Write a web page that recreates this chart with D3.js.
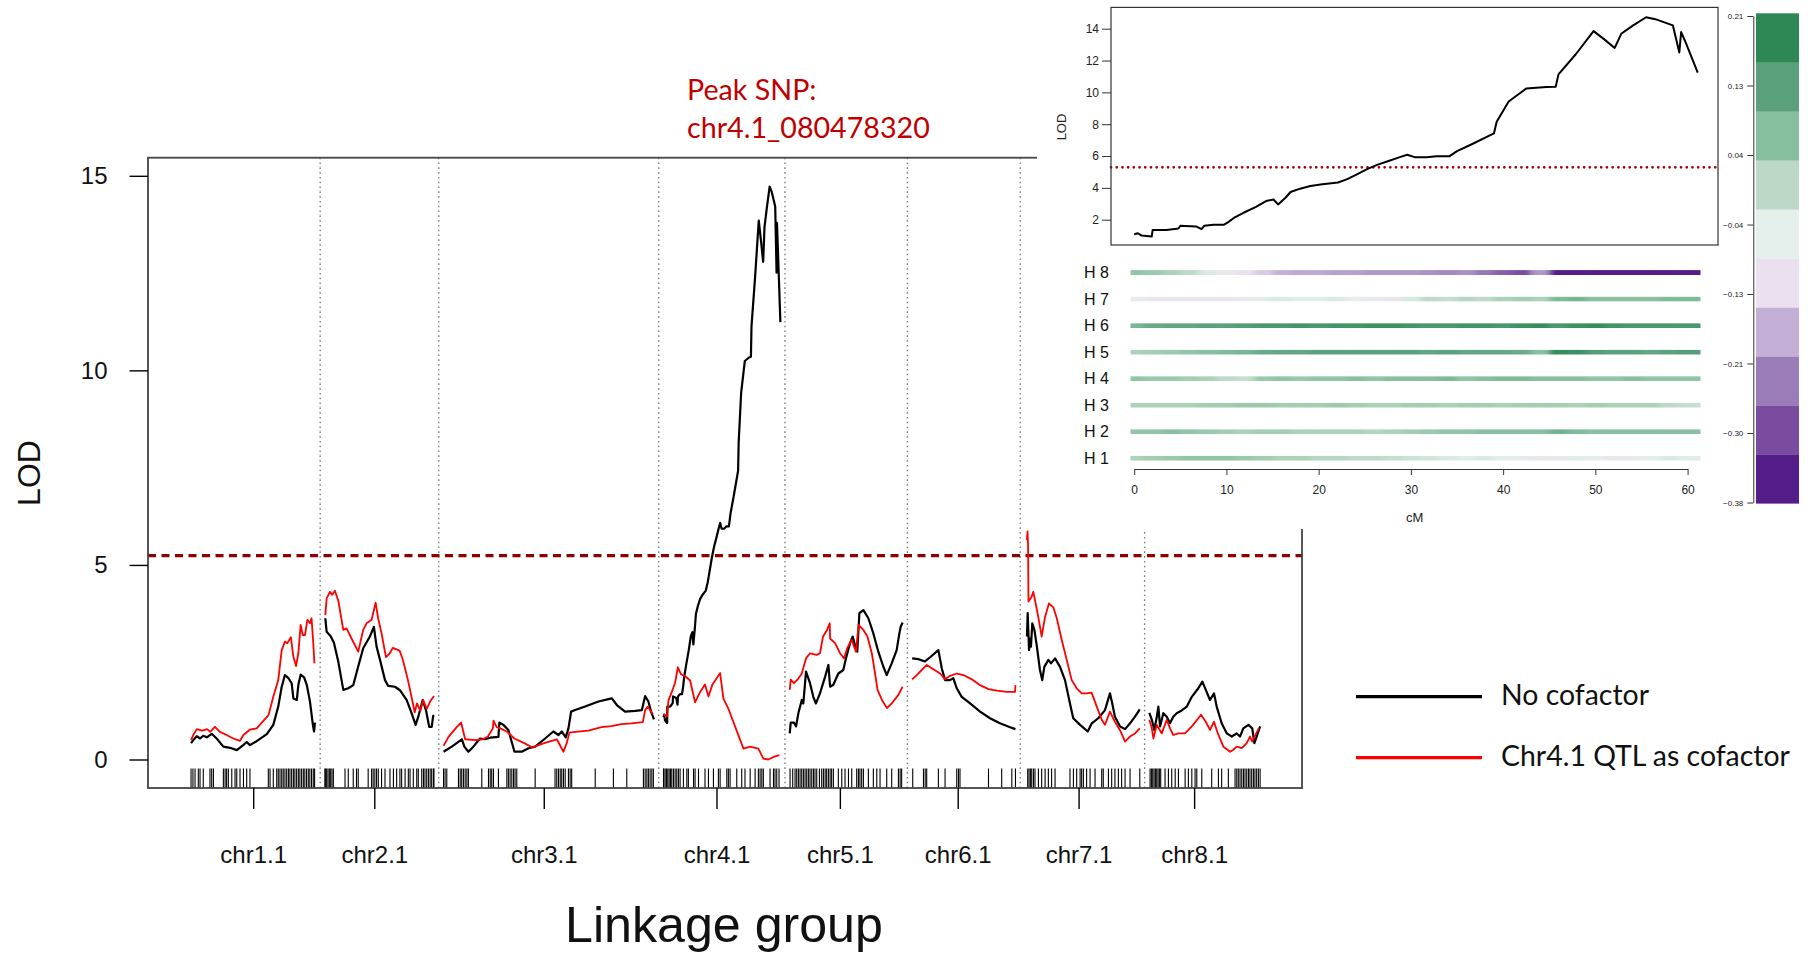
<!DOCTYPE html>
<html>
<head>
<meta charset="utf-8">
<script src="https://cdn.jsdelivr.net/npm/d3@7/dist/d3.min.js"></script>
<style>
  html, body { margin: 0; padding: 0; background: #fff; }
  svg { display: block; }
</style>
</head>
<body>
<svg id="chart" width="1808" height="953"></svg>
<script>
// ---------- Genome-wide scan: linkage groups ----------
const chromosomes = ['chr1.1', 'chr2.1', 'chr3.1', 'chr4.1', 'chr5.1', 'chr6.1', 'chr7.1', 'chr8.1'];
const chrLengths = [65, 57, 110, 61, 59, 54, 60, 58];        // cM
const chrLabelPos = [32.5, 25.8, 52.4, 27.7, 26.2, 23.8, 28.0, 23.4]; // cM within each group
const lodTicks = [0, 5, 10, 15];
const lodThreshold = 5.24;

// LOD profiles, [cM, LOD] — no cofactor
const chr1NoCof = [[0,0.42],[1.2,0.50],[3.0,0.60],[4.7,0.54],[6.4,0.61],[8.2,0.57],[10.8,0.66],[13.4,0.54],[16.9,0.33],[20.4,0.30],[23.9,0.24],[27.3,0.37],[29.1,0.45],[30.8,0.37],[34.3,0.47],[39.6,0.65],[43.0,0.89],[45.6,1.36],[47.4,1.87],[49.1,2.17],[50.9,2.09],[52.6,1.96],[53.5,1.57],[55.3,1.53],[56.1,1.92],[57.3,2.18],[59.1,2.11],[60.5,1.92],[62.2,1.48],[63.6,0.93],[64.3,0.72],[64.8,0.95]];
const chr2NoCof = [[0.2,3.63],[0.9,3.28],[3.0,3.17],[4.7,3.00],[7.0,2.51],[9.6,1.79],[12.2,1.83],[14.8,1.91],[17.4,2.39],[20.0,2.86],[23.5,3.16],[25.6,3.41],[27.0,2.90],[28.8,2.56],[31.4,2.04],[33.1,1.89],[36.6,1.87],[39.2,1.78],[42.7,1.53],[45.3,1.19],[47.4,0.89],[48.8,1.10],[51.1,1.53],[52.8,1.27],[54.5,0.84],[55.8,0.84],[56.6,1.12],[57.0,1.14]];
const chr3NoCof = [[0,0.20],[4.3,0.33],[9.6,0.52],[10.9,0.33],[13.0,0.20],[15.6,0.33],[19.1,0.54],[21.7,0.52],[24.4,0.56],[28.7,0.58],[29.2,0.95],[31.3,0.89],[33.9,0.76],[37.1,0.20],[40.9,0.20],[44.4,0.29],[47.9,0.33],[53.1,0.54],[57.4,0.72],[60.1,0.63],[61.8,0.72],[63.9,0.57],[65.3,0.80],[66.7,1.23],[68.8,1.27],[74.0,1.36],[81.0,1.49],[86.2,1.55],[88.0,1.57],[90.6,1.40],[94.9,1.23],[100.2,1.25],[103.7,1.27],[105.4,1.63],[107.1,1.49],[108.5,1.23],[110.0,1.03]];
const chr4NoCof = [[0,1.09],[0.4,1.15],[0.8,1.00],[1.9,0.94],[2.0,1.36],[3.5,1.36],[4.8,1.45],[5.0,1.62],[6.7,1.58],[7.3,1.41],[7.6,1.62],[8.6,1.68],[9.7,1.68],[10.2,1.85],[10.8,2.11],[11.8,2.42],[13.2,2.81],[14.3,3.17],[15.1,3.27],[15.6,2.96],[16.4,3.38],[16.95,3.74],[18.0,3.95],[19.1,4.12],[20.4,4.23],[22.1,4.34],[23.1,4.55],[24.2,4.87],[25.3,5.19],[26.4,5.46],[27.5,5.67],[28.8,5.93],[29.6,6.08],[30.4,5.93],[31.7,5.93],[32.8,5.99],[34.2,5.99],[35.0,6.31],[36.6,6.74],[39.0,7.42],[39.3,8.16],[40.6,9.43],[41.7,9.90],[42.5,10.24],[44.7,10.33],[45.7,10.35],[46.0,11.13],[47.9,12.41],[49.8,13.85],[50.9,13.36],[52.1,12.79],[52.8,13.68],[54.1,14.21],[55.5,14.72],[56.5,14.60],[58.4,14.21],[59.1,12.51],[59.3,13.79],[59.7,13.26],[61.1,11.24]];
const chr5NoCof = [[0,0.67],[0.5,0.95],[2.2,0.95],[3.3,0.85],[4.5,1.19],[6.3,1.53],[7.1,1.44],[8.5,2.26],[10.6,1.96],[12.3,1.61],[13.7,1.44],[15.8,1.70],[18.5,2.13],[20.2,2.43],[21.1,1.87],[22.8,1.92],[25.4,2.21],[28.0,2.30],[29.4,2.60],[31.5,2.99],[32.9,3.16],[34.1,2.94],[35.3,2.77],[36.4,3.76],[38.5,3.84],[41.1,3.63],[43.7,3.24],[46.3,2.77],[48.9,2.39],[50.7,2.17],[53.3,2.47],[55.9,2.81],[57.3,3.24],[58.0,3.41],[59.0,3.52]];
const chr6NoCof = [[0,2.60],[3.2,2.58],[6.7,2.52],[9.7,2.64],[13.7,2.81],[15.5,2.34],[17.2,2.04],[19.8,2.04],[21.5,2.09],[23.3,1.83],[25.9,1.61],[30.3,1.44],[35.5,1.23],[40.7,1.06],[45.9,0.93],[51.2,0.83],[54.0,0.78]];
const chr7NoCof = [[1.0,3.16],[1.4,3.76],[1.7,3.33],[2.1,2.81],[2.6,3.11],[3.1,2.90],[3.8,3.50],[4.9,3.33],[6.1,2.94],[7.8,2.30],[9.0,2.04],[10.1,2.38],[12.2,2.56],[13.6,2.47],[15.7,2.60],[18.3,2.38],[20.9,2.04],[23.5,1.44],[25.2,1.06],[28.8,0.89],[32.8,0.72],[34.9,0.93],[38.3,1.06],[41.8,1.27],[44.4,1.70],[45.6,1.44],[47.0,1.10],[49.7,0.85],[52.3,0.78],[54.9,0.93],[57.5,1.10],[60.0,1.29]];
const chr8NoCof = [[0,1.20],[1.3,1.02],[2.6,0.76],[3.9,1.10],[4.7,1.36],[5.6,0.85],[7.3,1.19],[9.1,1.10],[10.8,0.93],[12.5,1.10],[14.3,1.19],[16.9,1.26],[19.6,1.36],[22.2,1.61],[25.6,1.83],[27.7,2.00],[29.5,1.79],[31.7,1.53],[33.8,1.70],[35.2,1.36],[37.8,0.93],[40.5,0.67],[43.1,0.59],[45.7,0.67],[47.4,0.59],[49.1,0.80],[51.8,0.89],[53.8,0.80],[54.9,0.42],[56.1,0.59],[57.9,0.85]];

// LOD profiles, [cM, LOD] — chr4.1 QTL as cofactor
const chr1Cof = [[0,0.50],[1.2,0.63],[3.0,0.78],[5.8,0.74],[8.4,0.78],[10.0,0.71],[12.5,0.84],[15.1,0.71],[18.6,0.63],[22.1,0.54],[25.6,0.48],[27.4,0.63],[30.8,0.77],[34.3,0.80],[40.5,1.14],[43.0,1.61],[45.6,2.04],[47.4,2.81],[49.1,3.03],[50.3,2.99],[52.2,3.14],[53.5,2.64],[54.9,2.40],[56.1,2.73],[57.3,3.46],[58.4,3.20],[59.6,3.20],[60.8,3.59],[62.2,3.50],[63.0,3.63],[63.9,2.99],[64.5,2.47]];
const chr2Cof = [[0.2,3.71],[0.9,4.14],[2.6,4.31],[3.8,4.23],[5.2,4.34],[7.0,4.08],[9.6,3.33],[11.3,3.37],[13.9,3.11],[17.4,2.77],[20.0,3.33],[21.8,3.50],[24.4,3.59],[26.5,4.03],[27.8,3.63],[29.6,3.24],[31.9,2.63],[33.9,2.73],[35.5,2.87],[39.0,2.80],[40.7,2.57],[43.4,2.04],[46.0,1.44],[46.9,1.21],[48.1,1.44],[49.9,1.25],[51.3,1.53],[53.2,1.30],[55.0,1.49],[57.0,1.63]];
const chr3Cof = [[0,0.35],[2.6,0.58],[7.0,0.84],[9.2,0.95],[11.3,0.52],[17.1,0.50],[20.6,0.52],[23.2,0.59],[25.8,0.80],[26.1,1.00],[27.8,0.83],[29.6,0.80],[33.1,0.72],[37.0,0.54],[42.2,0.42],[46.5,0.31],[52.6,0.42],[59.2,0.52],[62.7,0.20],[64.4,0.42],[65.8,0.69],[68.8,0.71],[75.7,0.74],[82.6,0.83],[87.8,0.86],[93.0,0.91],[98.2,0.93],[104.2,0.96],[105.4,1.27],[106.8,1.36],[108.2,1.25],[109.4,1.17]];
const chr4Cof = [[0,1.16],[1.9,1.11],[2.6,1.52],[4.3,1.73],[6.1,1.98],[7.5,2.37],[9.2,2.19],[11.3,2.14],[13.9,2.03],[16.5,1.47],[19.1,1.73],[21.7,1.93],[23.5,1.62],[25.6,1.93],[29.6,2.22],[31.3,1.57],[33.9,1.31],[37.4,0.85],[41.8,0.28],[45.3,0.33],[49.6,0.28],[52.2,0.02],[54.8,0.00],[58.3,0.08],[60.6,0.11]];
const chr5Cof = [[0,1.79],[0.5,2.05],[2.2,1.96],[4.5,2.08],[6.3,2.21],[8.5,2.60],[10.6,2.73],[14.1,2.69],[15.8,2.73],[17.4,3.16],[19.5,3.33],[20.9,3.50],[21.1,3.11],[23.7,2.99],[26.3,2.73],[28.4,2.60],[30.0,2.86],[32.4,3.07],[34.6,2.77],[36.0,3.46],[38.5,3.33],[40.6,3.16],[42.9,2.73],[44.6,2.21],[45.9,1.79],[48.2,1.53],[50.8,1.32],[53.3,1.44],[56.8,1.66],[59.0,1.87]];
const chr6Cof = [[0,2.06],[2.4,2.17],[5.0,2.30],[7.6,2.43],[11.1,2.32],[14.6,2.21],[17.2,2.06],[19.8,2.15],[23.3,2.21],[26.8,2.17],[31.2,2.06],[35.5,1.91],[39.9,1.81],[44.3,1.77],[49.5,1.74],[53.8,1.74],[54.0,1.91]];
const chr7Cof = [[1.0,5.64],[1.3,5.86],[1.6,5.50],[1.8,4.06],[3.5,4.19],[4.3,4.31],[5.2,4.10],[6.9,3.67],[8.7,3.16],[10.5,3.67],[12.5,4.01],[14.8,3.91],[16.6,3.63],[19.2,3.07],[21.8,2.56],[24.4,2.04],[27.0,1.83],[29.6,1.70],[32.2,1.70],[34.8,1.72],[37.5,1.36],[40.1,1.02],[41.8,0.89],[44.4,1.23],[47.0,0.97],[49.6,0.76],[52.3,0.46],[54.9,0.59],[57.5,0.67],[60.0,0.80]];
const chr8Cof = [[0,1.02],[1.3,0.80],[2.1,0.54],[3.9,0.89],[6.5,0.67],[9.1,1.02],[10.8,0.80],[12.5,0.63],[15.1,0.67],[18.6,0.67],[22.2,0.85],[25.6,1.06],[27.0,1.15],[29.5,0.97],[31.7,0.76],[33.8,0.97],[35.8,0.67],[38.7,0.33],[42.2,0.20],[43.9,0.25],[45.7,0.33],[48.3,0.29],[50.9,0.42],[52.6,0.59],[53.8,0.46],[55.0,0.59],[57.2,0.80]];

// Marker positions (cM) for the rug
const chr1Markers = [0,1,2.1,3.8,4.7,6.4,9.9,10.8,11.7,16.9,17.8,18.6,19.5,21.3,23,23.9,25.6,27.4,29.1,30.8,40.4,41.3,43,44.8,45.6,46.5,47.4,48.2,49.1,50,50.9,51.7,52.6,53.5,54.3,55.2,56.1,56.9,57.8,58.7,59.5,60.4,61.3,62.1,63,63.9,64.6];
const chr2Markers = [0,0.2,0.9,1.6,2.3,3.0,3.7,4.4,10.5,12.2,14.8,16.5,17.4,22.6,24.4,25.2,26.1,27.0,27.9,29.6,31.4,34.0,35.8,37.5,39.2,40.1,41.9,43.6,44.5,46.2,48.0,48.8,50.6,51.5,52.3,53.2,54.1,55.0,55.8,56.7,57];
const chr3Markers = [0,0.8,1.7,7.8,8.7,9.5,10.4,11.3,12.2,13.0,20.0,23.5,24.4,25.2,26.1,28.7,33.1,33.9,34.8,35.7,36.6,37.4,38.3,47.9,58.3,59.2,60.1,61.0,61.8,62.7,63.6,65.3,66.2,67.0,79.3,88.8,95.8,104.5,105.4,106.3,107.1,108.0,108.9,109.7];
const chr4Markers = [0,0.14,0.84,1.53,2.23,2.93,3.62,4.32,5.19,6.06,6.93,7.8,8.68,10.4,12.2,13.0,15.7,16.5,18.3,21.7,23.5,26.1,28.7,29.6,33.1,33.9,34.8,38.3,40.9,42.6,45.3,47.9,49.6,50.5,51.4,52.2,55.7,57.5,58.3,59.2,60.4];
const chr5Markers = [0.16,1.55,2.77,3.64,4.51,5.39,6.26,7.13,8.0,8.87,9.74,10.6,11.5,12.4,13.2,14.1,15.5,16.7,17.6,18.5,19.3,20.2,21.1,21.9,22.8,25.4,27.2,28.9,30.7,32.4,35.0,35.9,36.7,37.6,38.5,41.1,43.7,45.5,47.2,50.7,53.3,56.8,57.7,58.5];
const chr6Markers = [0.3,5.9,6.8,7.6,13.7,17.2,23.3,24.2,25.0,39.9,46.8,52.1,54];
const chr7Markers = [1.4,2.1,2.8,3.5,4.4,5.2,7.0,8.7,10.5,12.2,13.9,15.7,23.5,25.3,27.0,28.8,29.6,30.5,32.2,34.0,36.6,40.1,40.9,43.6,45.3,47.0,48.8,50.5,52.3,54.9,60];
const chr8Markers = [0.37,1.06,1.76,2.46,3.15,3.85,4.55,5.24,5.94,8.2,9.96,11.7,13.5,15.2,18.7,20.4,22.2,23.9,24.8,27.4,32.6,36.1,37.8,41.3,44.8,45.7,46.5,47.4,48.3,49.2,50.0,50.9,51.8,52.6,53.5,54.4,55.2,56.1,57.0,57.9];

// ---------- chr4.1 detail: haplotype effects ----------
const hapLabels = ['H 8', 'H 7', 'H 6', 'H 5', 'H 4', 'H 3', 'H 2', 'H 1'];
const effectPos = [0,2,4,6,8,10,12,14,16,18,20,22,24,26,28,30,32,34,36,38,40,42,44,46,48,50,52,54,56,58,60];
const effH8 = [0.05,0.04,0.02,0.0,-0.04,-0.08,-0.11,-0.14,-0.17,-0.18,-0.18,-0.19,-0.19,-0.2,-0.2,-0.2,-0.21,-0.22,-0.21,-0.24,-0.27,-0.29,-0.2,-0.35,-0.36,-0.36,-0.36,-0.36,-0.36,-0.36,-0.36];
const effH7 = [-0.06,-0.1,-0.09,-0.1,-0.09,-0.1,-0.08,-0.05,-0.04,-0.05,-0.05,-0.04,-0.06,-0.08,-0.09,-0.04,0.0,-0.01,0.01,0.0,0.02,0.03,0.02,0.07,0.08,0.06,0.06,0.06,0.06,0.07,0.07];
const effH6 = [0.08,0.1,0.11,0.11,0.12,0.12,0.13,0.14,0.14,0.15,0.14,0.15,0.15,0.16,0.16,0.15,0.14,0.14,0.15,0.15,0.14,0.16,0.17,0.14,0.16,0.17,0.15,0.14,0.14,0.14,0.14];
const effH5 = [0.02,0.03,0.04,0.05,0.06,0.07,0.08,0.1,0.11,0.11,0.12,0.12,0.12,0.12,0.12,0.12,0.11,0.12,0.11,0.11,0.11,0.1,0.06,0.17,0.16,0.13,0.12,0.12,0.11,0.12,0.13];
const effH4 = [0.05,0.04,0.04,0.03,0.02,0.0,-0.01,0.04,0.05,0.04,0.05,0.05,0.06,0.05,0.06,0.06,0.06,0.07,0.05,0.06,0.07,0.07,0.06,0.06,0.06,0.05,0.05,0.06,0.05,0.05,0.05];
const effH3 = [0.02,0.02,0.02,0.02,0.03,0.03,0.04,0.04,0.03,0.03,0.03,0.04,0.03,0.02,0.02,0.03,0.03,0.02,0.03,0.03,0.02,0.03,0.03,0.03,0.02,0.03,0.02,0.02,0.02,0.0,-0.01];
const effH2 = [0.05,0.05,0.06,0.05,0.04,0.03,0.02,0.03,0.03,0.02,0.02,0.02,0.02,0.01,0.02,0.03,0.04,0.05,0.05,0.06,0.06,0.06,0.06,0.09,0.07,0.06,0.06,0.06,0.06,0.06,0.06];
const effH1 = [0.02,0.03,0.04,0.05,0.05,0.05,0.04,0.03,0.02,0.02,0.01,0.01,0.0,0.0,-0.01,-0.02,-0.03,-0.04,-0.05,-0.04,-0.06,-0.07,-0.09,-0.08,-0.05,-0.06,-0.09,-0.08,-0.06,-0.04,-0.05];
const effectRange = [-0.38, 0.21];
const effectColors = ['#541d89', '#7a4c9f', '#9a7db8', '#c3aed5', '#ebe0ef',
                      '#e5efeb', '#bbd9c6', '#86bf9e', '#5aa07a', '#2e8856'];
const insetLodTicks = [2, 4, 6, 8, 10, 12, 14];
const insetCmTicks = [0, 10, 20, 30, 40, 50, 60];
const colorbarTicks = [-0.38, -0.2957, -0.2114, -0.1271, -0.0429, 0.0414, 0.1257, 0.21];

// ---------- assemble ----------
const noCofactor = [chr1NoCof, chr2NoCof, chr3NoCof, chr4NoCof, chr5NoCof, chr6NoCof, chr7NoCof, chr8NoCof];
const withCofactor = [chr1Cof, chr2Cof, chr3Cof, chr4Cof, chr5Cof, chr6Cof, chr7Cof, chr8Cof];
const markers = [chr1Markers, chr2Markers, chr3Markers, chr4Markers, chr5Markers, chr6Markers, chr7Markers, chr8Markers];
const effects = [effH8, effH7, effH6, effH5, effH4, effH3, effH2, effH1];

const GAP = 5; // cM between linkage groups
const chrStart = [];
chrLengths.reduce((acc, len, i) => { chrStart[i] = acc; return acc + len + GAP; }, 0);

const svg = d3.select('#chart');
const AXIS_FONT = 'Liberation Sans, Arial, sans-serif';
const NOTE_FONT = 'Lato, Open Sans, sans-serif';

function fitWidth(sel, target) {
  const w = sel.node().getComputedTextLength();
  const fs = parseFloat(sel.attr('font-size'));
  return fs * target / w;
}

// ---------- main genome-wide panel ----------
const P = { left: 148, right: 1302, top: 157.7, bottom: 788 };
const x = d3.scaleLinear().domain([-22.5, 580.8]).range([P.left, P.right]);
const y = d3.scaleLinear().domain([0, 15]).range([759.5, 175.8]);

const main = svg.append('g');

// dotted separators between linkage groups
main.append('g').selectAll('line')
  .data(chrStart.slice(1))
  .join('line')
  .attr('x1', d => x(d - GAP / 2)).attr('x2', d => x(d - GAP / 2))
  .attr('y1', P.top).attr('y2', P.bottom)
  .attr('stroke', '#7a7a7a').attr('stroke-width', 1.3)
  .attr('stroke-dasharray', '1.6,3.2');

// significance threshold
main.append('line')
  .attr('x1', P.left).attr('x2', P.right)
  .attr('y1', y(lodThreshold)).attr('y2', y(lodThreshold))
  .attr('stroke', '#8b0000').attr('stroke-width', 3.2)
  .attr('stroke-dasharray', '8,5.5');

// marker rug
const rug = main.append('g');
markers.forEach((ms, i) => {
  rug.selectAll(null).data(ms).join('line')
    .attr('x1', d => x(chrStart[i] + d)).attr('x2', d => x(chrStart[i] + d))
    .attr('y1', 768.5).attr('y2', P.bottom)
    .attr('stroke', '#000').attr('stroke-width', 1.1);
});

// LOD curves
const lodLine = offset => d3.line().x(d => x(offset + d[0])).y(d => y(d[1]));
noCofactor.forEach((pts, i) => {
  main.append('path').datum(pts)
    .attr('d', lodLine(chrStart[i]))
    .attr('fill', 'none').attr('stroke', '#000').attr('stroke-width', 2.2)
    .attr('stroke-linejoin', 'round');
});
withCofactor.forEach((pts, i) => {
  main.append('path').datum(pts)
    .attr('d', lodLine(chrStart[i]))
    .attr('fill', 'none').attr('stroke', '#ff0000').attr('stroke-width', 1.8)
    .attr('stroke-linejoin', 'round');
});

// frame
main.append('rect')
  .attr('x', P.left).attr('y', P.top)
  .attr('width', P.right - P.left).attr('height', P.bottom - P.top)
  .attr('fill', 'none').attr('stroke', '#444').attr('stroke-width', 1.8);

// y axis
const yAxis = main.append('g').attr('transform', `translate(${P.left},0)`)
  .call(d3.axisLeft(y).tickValues(lodTicks).tickSize(18.5).tickPadding(22).tickFormat(d3.format('d')));
yAxis.select('.domain').remove();
yAxis.selectAll('line').attr('stroke', '#000').attr('stroke-width', 1.4);
yAxis.selectAll('text').attr('font-family', AXIS_FONT).attr('font-size', 24).attr('fill', '#111');

// x axis: one tick per linkage group
const chrTick = chrLabelPos.map((p, i) => chrStart[i] + p);
const xAxis = main.append('g').attr('transform', `translate(0,${P.bottom})`)
  .call(d3.axisBottom(x).tickValues(chrTick).tickSize(21).tickPadding(37)
    .tickFormat((d, i) => chromosomes[i]));
xAxis.select('.domain').remove();
xAxis.selectAll('line').attr('stroke', '#000').attr('stroke-width', 1.4);
xAxis.selectAll('text').attr('font-family', AXIS_FONT).attr('font-size', 24).attr('fill', '#111');

// axis titles
main.append('text')
  .attr('transform', 'translate(40,473) rotate(-90)')
  .attr('text-anchor', 'middle')
  .attr('font-family', AXIS_FONT).attr('font-size', 32).attr('fill', '#111')
  .text('LOD');
const xTitle = main.append('text')
  .attr('x', 565).attr('y', 942)
  .attr('font-family', AXIS_FONT).attr('font-size', 48).attr('fill', '#111')
  .text('Linkage group');
xTitle.attr('font-size', fitWidth(xTitle, 318));

// peak annotation
const peak1 = main.append('text').attr('x', 687).attr('y', 100)
  .attr('font-family', NOTE_FONT).attr('font-size', 28).attr('fill', '#c00000')
  .text('Peak SNP:');
const peak2 = main.append('text').attr('x', 687).attr('y', 138)
  .attr('font-family', NOTE_FONT).attr('font-size', 28).attr('fill', '#c00000')
  .text('chr4.1_080478320');
const peakSize = fitWidth(peak2, 243);
peak1.attr('font-size', peakSize); peak2.attr('font-size', peakSize);

// legend
const legend = main.append('g');
const legendItems = [
  { label: 'No cofactor', color: '#000', y: 696.7 },
  { label: 'Chr4.1 QTL as cofactor', color: '#ff0000', y: 757.7 }
];
legend.selectAll('line').data(legendItems).join('line')
  .attr('x1', 1356).attr('x2', 1482)
  .attr('y1', d => d.y).attr('y2', d => d.y)
  .attr('stroke', d => d.color).attr('stroke-width', 3.3);
const legText = legend.selectAll('text').data(legendItems).join('text')
  .attr('x', 1501).attr('y', d => d.y + 8.5)
  .attr('font-family', NOTE_FONT).attr('font-size', 28).attr('fill', '#111')
  .text(d => d.label);
const legSize = fitWidth(d3.select(legText.nodes()[1]), 289);
legText.attr('font-size', legSize);

// ---------- chr4.1 detail panel ----------
const inset = svg.append('g');
inset.append('rect').attr('x', 1037).attr('y', 0).attr('width', 771).attr('height', 529).attr('fill', '#fff');

const xI = d3.scaleLinear().domain([0, 60]).range([1134.2, 1687.6]);
const yI = d3.scaleLinear().domain([2, 14]).range([219.7, 28.7]);
const IB = { left: 1111, right: 1718, top: 7.4, bottom: 245 };

inset.append('line')
  .attr('x1', IB.left).attr('x2', IB.right)
  .attr('y1', yI(5.29)).attr('y2', yI(5.29))
  .attr('stroke', '#a00000').attr('stroke-width', 2.6)
  .attr('stroke-linecap', 'round').attr('stroke-dasharray', '0.1,5.6');

inset.append('path').datum(chr4NoCof)
  .attr('d', d3.line().x(d => xI(d[0])).y(d => yI(d[1])))
  .attr('fill', 'none').attr('stroke', '#000').attr('stroke-width', 2)
  .attr('stroke-linejoin', 'round');

inset.append('rect')
  .attr('x', IB.left).attr('y', IB.top)
  .attr('width', IB.right - IB.left).attr('height', IB.bottom - IB.top)
  .attr('fill', 'none').attr('stroke', '#333').attr('stroke-width', 1.2);

const yIAxis = inset.append('g').attr('transform', `translate(${IB.left},0)`)
  .call(d3.axisLeft(yI).tickValues(insetLodTicks).tickSize(9).tickPadding(3));
yIAxis.select('.domain').remove();
yIAxis.selectAll('line').attr('stroke', '#333');
yIAxis.selectAll('text').attr('font-family', AXIS_FONT).attr('font-size', 12).attr('fill', '#222');

inset.append('text')
  .attr('transform', 'translate(1066,127) rotate(-90)')
  .attr('text-anchor', 'middle')
  .attr('font-family', AXIS_FONT).attr('font-size', 13).attr('fill', '#222')
  .text('LOD');

// haplotype effect strips: colours interpolated between the key's classes
const binW = (effectRange[1] - effectRange[0]) / effectColors.length;
const stripColor = d3.scaleLinear()
  .domain(effectColors.map((c, i) => effectRange[0] + binW * (i + 0.5)))
  .range(effectColors)
  .clamp(true);
const defs = svg.append('defs');
defs.append('filter').attr('id', 'stripBlur')
  .attr('x', '-5%').attr('y', '-50%').attr('width', '110%').attr('height', '200%')
  .append('feGaussianBlur').attr('stdDeviation', '3 0');

const rowY = d3.scalePoint().domain(hapLabels).range([272.6, 458.2]);
const stripL = xI(-0.4), stripR = xI(61.4), stripH = 5;
const edges = effectPos.map((p, i) => [
  i === 0 ? stripL - 6 : xI((effectPos[i - 1] + p) / 2),
  i === effectPos.length - 1 ? stripR + 6 : xI((p + effectPos[i + 1]) / 2)
]);

hapLabels.forEach((lab, r) => {
  const cy = rowY(lab);
  const clipId = 'strip' + r;
  defs.append('clipPath').attr('id', clipId)
    .append('rect').attr('x', stripL).attr('y', cy - stripH / 2)
    .attr('width', stripR - stripL).attr('height', stripH);
  inset.append('g').attr('clip-path', `url(#${clipId})`)
    .append('g').attr('filter', 'url(#stripBlur)')
    .selectAll('rect').data(effects[r]).join('rect')
    .attr('x', (d, i) => edges[i][0]).attr('width', (d, i) => edges[i][1] - edges[i][0] + 0.5)
    .attr('y', cy - stripH / 2).attr('height', stripH)
    .attr('fill', d => stripColor(d));
  inset.append('text')
    .attr('x', 1084).attr('y', cy).attr('dy', '0.36em')
    .attr('font-family', AXIS_FONT).attr('font-size', 16).attr('fill', '#111')
    .text(lab);
});

// cM axis
const xIAxis = inset.append('g').attr('transform', 'translate(0,469)')
  .call(d3.axisBottom(xI).tickValues(insetCmTicks).tickSize(6).tickPadding(10).tickSizeOuter(0));
xIAxis.select('.domain').attr('stroke', '#333');
xIAxis.selectAll('line').attr('stroke', '#333');
xIAxis.selectAll('text').attr('font-family', AXIS_FONT).attr('font-size', 12).attr('fill', '#222');
inset.append('text')
  .attr('x', xI(30.4)).attr('y', 522)
  .attr('text-anchor', 'middle')
  .attr('font-family', AXIS_FONT).attr('font-size', 13).attr('fill', '#222')
  .text('cM');

// colour key
const cbBox = d3.scaleLinear().domain([0, effectColors.length]).range([503.3, 13.3]);
inset.append('g').selectAll('rect').data(effectColors).join('rect')
  .attr('x', 1756).attr('width', 43)
  .attr('y', (d, i) => cbBox(i + 1)).attr('height', (d, i) => cbBox(i) - cbBox(i + 1) + 0.3)
  .attr('fill', d => d);
const cbY = d3.scaleLinear().domain(effectRange).range([502.5, 16]);
const cbAxis = inset.append('g').attr('transform', 'translate(1753.3,0)')
  .call(d3.axisLeft(cbY).tickValues(colorbarTicks).tickSize(6).tickPadding(4)
    .tickFormat(d3.format('.2f')).tickSizeOuter(0));
cbAxis.select('.domain').attr('stroke', '#333');
cbAxis.selectAll('line').attr('stroke', '#333');
cbAxis.selectAll('text').attr('font-family', AXIS_FONT).attr('font-size', 8).attr('fill', '#222');
</script>
</body>
</html>
